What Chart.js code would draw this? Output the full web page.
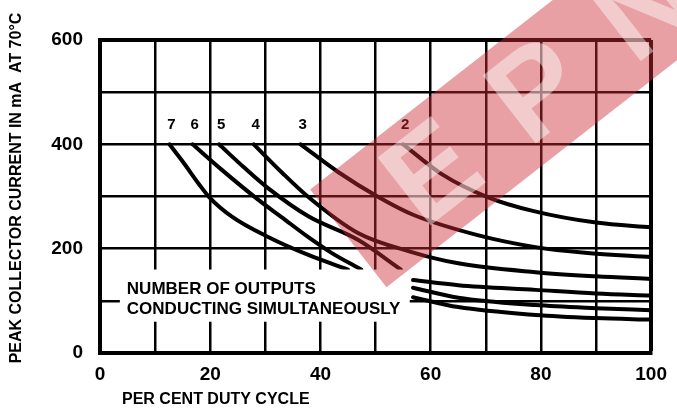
<!DOCTYPE html>
<html>
<head>
<meta charset="utf-8">
<script src="https://cdn.jsdelivr.net/npm/chart.js@4.4.1/dist/chart.umd.min.js"></script>
<style>
  html, body { margin: 0; padding: 0; background: #fff; }
  #chart { display: block; }
</style>
</head>
<body>
<canvas id="chart" width="677" height="410"></canvas>
<script>
// number of outputs conducting at once, one curve each
var curveNames = ['2', '3', '4', '5', '6', '7'];

// duty cycle in % / peak current in mA
// null = the curve is broken under the note box
var duty2 = [55, 62, 70.3, 78.7, 90, 100];
var current2 = [400, 343, 299, 272, 250, 241];

var duty3 = [36.4, 43.2, 50.5, 56.8, 68.5, 79, 88, 100];
var current3 = [400, 347, 299, 265, 226, 203, 192, 184];

var duty4 = [27.9, 33, 37.8, 46.8, 56.4, 65, 79, 90, 100];
var current4 = [400, 346, 299, 230, 194, 172, 155, 147, 142];

var duty5 = [21.6, 26, 30.6, 37.8, 46.8, 54.6, 55.7, 56.8, 65, 79, 90, 100];
var current5 = [400, 357, 315, 262, 217, 160, null, 140, 130, 121, 114, 110];

var duty6 = [16.8, 22, 28.8, 33, 37.8, 42, 47.4, 52, 56.8, 65, 79, 90, 100];
var current6 = [400, 352, 293, 260, 222, 192, 160, null, 125, 106, 92, 86, 82];

var duty7 = [12.6, 15, 18, 19.8, 24, 30.6, 37.8, 45, 50, 56.8, 65, 79, 90, 100];
var current7 = [400, 367, 323, 299, 261, 222, 188, 160, null, 107, 88, 73, 67, 64];

var xTickLabels = [0, 20, 40, 60, 80, 100];
var yTickLabels = [0, 200, 400, 600];

var xTitle = 'PER CENT DUTY CYCLE';
var yTitle = 'PEAK COLLECTOR CURRENT IN mA  AT 70\u00B0C';
var noteLines = ['NUMBER OF OUTPUTS', 'CONDUCTING SIMULTANEOUSLY'];
var markText = 'EPN';

var FONT = '"Liberation Sans", Arial, Helvetica, sans-serif';

function toPoints(xs, ys) {
    return xs.map(function (x, i) { return { x: x, y: ys[i] }; });
}

var allDuty = [duty2, duty3, duty4, duty5, duty6, duty7];
var allCurrent = [current2, current3, current4, current5, current6, current7];

var datasets = curveNames.map(function (name, i) {
    return {
        label: name,
        data: toPoints(allDuty[i], allCurrent[i]),
        borderColor: '#000',
        borderWidth: 4,
        borderCapStyle: 'round',
        pointRadius: 0,
        cubicInterpolationMode: 'monotone',
        spanGaps: false,
        fill: false
    };
});

// note box, curve numbers, axis titles and the scan watermark
var sheetPlugin = {
    id: 'sheet',
    afterDatasetsDraw: function (chart) {
        var ctx = chart.ctx;
        var sx = chart.scales.x, sy = chart.scales.y;
        ctx.save();

        var l = sx.getPixelForValue(3.6), r = sx.getPixelForValue(56.2);
        var t = sy.getPixelForValue(160), b = sy.getPixelForValue(60);
        ctx.fillStyle = '#fff';
        ctx.fillRect(l, t, r - l, b - t);

        ctx.fillStyle = '#000';
        ctx.font = 'bold 17px ' + FONT;
        ctx.textBaseline = 'middle';
        ctx.textAlign = 'left';
        ctx.fillText(noteLines[0], l + 7, t + 20);
        ctx.fillText(noteLines[1], l + 7, t + 40);

        ctx.font = 'bold 15px ' + FONT;
        ctx.textAlign = 'center';
        chart.data.datasets.forEach(function (ds, i) {
            var p = chart.getDatasetMeta(i).data[0];
            ctx.fillText(ds.label, p.x + 2, p.y - 19);
        });

        ctx.font = 'bold 16px ' + FONT;
        ctx.textAlign = 'left';
        ctx.fillText(xTitle, chart.chartArea.left + 22, 400);

        ctx.translate(17, 188);
        ctx.rotate(-Math.PI / 2);
        ctx.textAlign = 'center';
        ctx.fillText(yTitle, 0, 0);
        ctx.restore();
    },
    afterDraw: function (chart) {
        var ctx = chart.ctx;
        ctx.save();
        ctx.globalAlpha = 0.45;
        ctx.translate(528, 98);
        ctx.rotate(-38 * Math.PI / 180);
        ctx.fillStyle = 'rgb(204,44,55)';
        ctx.fillRect(-228, -62, 570, 124);
        ctx.fillStyle = '#fff';
        ctx.font = 'bold 125px ' + FONT;
        ctx.textAlign = 'center';
        ctx.textBaseline = 'middle';
        ctx.letterSpacing = '50px';
        ctx.fillText(markText, 40, 6);
        ctx.restore();
    }
};

function edgeWidth(max) {
    return function (c) { return c.tick && c.tick.value === max ? 4 : 2.5; };
}

new Chart(document.getElementById('chart'), {
    type: 'line',
    data: { datasets: datasets },
    plugins: [sheetPlugin],
    options: {
        responsive: false,
        animation: false,
        layout: { padding: { top: 40, right: 22, left: 0, bottom: 0 } },
        plugins: {
            legend: { display: false },
            tooltip: { enabled: false }
        },
        scales: {
            x: {
                type: 'linear',
                min: 0,
                max: 100,
                afterFit: function (s) { s.height = 57; },
                border: { display: true, color: '#000', width: 4 },
                grid: { color: '#000', lineWidth: edgeWidth(100), drawTicks: false },
                ticks: {
                    stepSize: 10,
                    autoSkip: false,
                    maxRotation: 0,
                    padding: 10,
                    color: '#000',
                    font: { family: FONT, size: 19, weight: 'bold' },
                    callback: function (v) { return xTickLabels.indexOf(v) >= 0 ? v : ''; }
                }
            },
            y: {
                min: 0,
                max: 600,
                afterFit: function (s) { s.width = 100; },
                border: { display: true, color: '#000', width: 4 },
                grid: { color: '#000', lineWidth: edgeWidth(600), drawTicks: false },
                ticks: {
                    stepSize: 100,
                    autoSkip: false,
                    padding: 17,
                    color: '#000',
                    font: { family: FONT, size: 19, weight: 'bold' },
                    callback: function (v) { return yTickLabels.indexOf(v) >= 0 ? v : ''; }
                }
            }
        }
    }
});
</script>
</body>
</html>
